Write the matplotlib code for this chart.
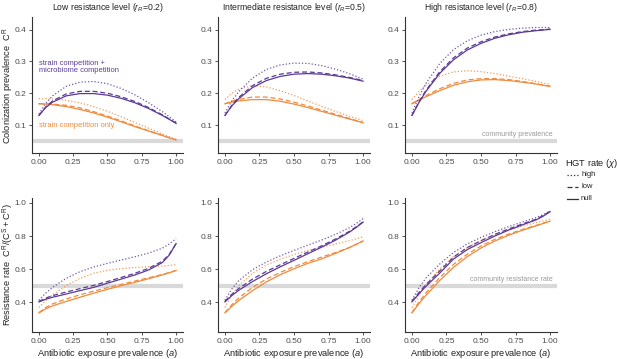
import matplotlib
matplotlib.use('Agg')
import matplotlib.pyplot as plt

plt.rcParams['font.family'] = ['Liberation Sans', 'DejaVu Sans']
plt.rcParams['mathtext.fontset'] = 'custom'
plt.rcParams['mathtext.rm'] = 'Liberation Sans'
plt.rcParams['mathtext.it'] = 'Liberation Sans:italic'

# antibiotic exposure prevalence (x values shared by all curves)
exposure = [0, 0.05, 0.1, 0.2, 0.3, 0.4, 0.5, 0.6, 0.7, 0.8, 0.9, 0.95, 1.0]

# colonization prevalence C^R, "micro" = strain + microbiome competition, "strain" = strain competition only
colon_low_micro = {
    'high': [0.135, 0.168, 0.192, 0.222, 0.235, 0.237, 0.230, 0.215, 0.195, 0.170, 0.142, 0.126, 0.110],
    'low':  [0.130, 0.157, 0.176, 0.198, 0.206, 0.206, 0.200, 0.189, 0.174, 0.155, 0.132, 0.119, 0.106],
    'null': [0.130, 0.155, 0.172, 0.192, 0.199, 0.199, 0.194, 0.184, 0.170, 0.152, 0.130, 0.118, 0.105],
}
colon_low_strain = {
    'high': [0.183, 0.183, 0.182, 0.178, 0.170, 0.158, 0.143, 0.126, 0.108, 0.090, 0.072, 0.063, 0.055],
    'low':  [0.167, 0.167, 0.166, 0.162, 0.154, 0.142, 0.128, 0.113, 0.097, 0.082, 0.068, 0.060, 0.053],
    'null': [0.167, 0.166, 0.164, 0.158, 0.149, 0.138, 0.125, 0.110, 0.095, 0.081, 0.067, 0.060, 0.053],
}
colon_int_micro = {
    'high': [0.138, 0.176, 0.205, 0.248, 0.275, 0.289, 0.295, 0.294, 0.287, 0.276, 0.262, 0.253, 0.244],
    'low':  [0.130, 0.162, 0.187, 0.224, 0.247, 0.260, 0.266, 0.267, 0.264, 0.258, 0.250, 0.245, 0.240],
    'null': [0.130, 0.160, 0.183, 0.218, 0.240, 0.253, 0.260, 0.262, 0.260, 0.255, 0.248, 0.243, 0.238],
}
colon_int_strain = {
    'high': [0.180, 0.200, 0.213, 0.224, 0.220, 0.208, 0.193, 0.176, 0.159, 0.143, 0.128, 0.121, 0.114],
    'low':  [0.167, 0.175, 0.181, 0.188, 0.188, 0.182, 0.172, 0.160, 0.147, 0.134, 0.121, 0.114, 0.108],
    'null': [0.167, 0.172, 0.176, 0.180, 0.180, 0.175, 0.166, 0.155, 0.143, 0.131, 0.119, 0.113, 0.107],
}
colon_high_micro = {
    'high': [0.138, 0.188, 0.230, 0.293, 0.337, 0.365, 0.383, 0.394, 0.401, 0.405, 0.407, 0.407, 0.407],
    'low':  [0.130, 0.172, 0.208, 0.267, 0.311, 0.342, 0.362, 0.377, 0.387, 0.394, 0.399, 0.400, 0.402],
    'null': [0.130, 0.170, 0.205, 0.262, 0.305, 0.336, 0.357, 0.373, 0.384, 0.392, 0.397, 0.399, 0.401],
}
colon_high_strain = {
    'high': [0.180, 0.205, 0.225, 0.253, 0.267, 0.271, 0.268, 0.262, 0.254, 0.246, 0.237, 0.232, 0.228],
    'low':  [0.167, 0.180, 0.192, 0.214, 0.231, 0.242, 0.246, 0.246, 0.243, 0.237, 0.230, 0.226, 0.222],
    'null': [0.167, 0.178, 0.189, 0.208, 0.225, 0.236, 0.242, 0.243, 0.240, 0.235, 0.229, 0.225, 0.222],
}

# resistance rate C^R / (C^S + C^R)
resist_low_micro = {
    'high': [0.412, 0.455, 0.490, 0.545, 0.585, 0.613, 0.635, 0.655, 0.675, 0.697, 0.727, 0.752, 0.785],
    'low':  [0.405, 0.425, 0.440, 0.462, 0.482, 0.502, 0.525, 0.550, 0.575, 0.605, 0.648, 0.690, 0.755],
    'null': [0.402, 0.418, 0.430, 0.450, 0.470, 0.490, 0.515, 0.540, 0.565, 0.595, 0.640, 0.685, 0.755],
}
resist_low_strain = {
    'high': [0.368, 0.410, 0.445, 0.500, 0.545, 0.575, 0.593, 0.603, 0.610, 0.615, 0.619, 0.622, 0.627],
    'low':  [0.337, 0.368, 0.390, 0.420, 0.445, 0.467, 0.488, 0.508, 0.528, 0.548, 0.568, 0.580, 0.592],
    'null': [0.335, 0.360, 0.378, 0.405, 0.430, 0.455, 0.478, 0.500, 0.520, 0.542, 0.565, 0.578, 0.592],
}
resist_int_micro = {
    'high': [0.412, 0.480, 0.530, 0.597, 0.643, 0.680, 0.713, 0.745, 0.776, 0.810, 0.850, 0.876, 0.905],
    'low':  [0.405, 0.448, 0.483, 0.540, 0.586, 0.626, 0.665, 0.703, 0.741, 0.782, 0.828, 0.856, 0.886],
    'null': [0.402, 0.440, 0.472, 0.525, 0.572, 0.614, 0.653, 0.693, 0.733, 0.775, 0.823, 0.852, 0.884],
}
resist_int_strain = {
    'high': [0.368, 0.445, 0.500, 0.575, 0.625, 0.660, 0.688, 0.712, 0.733, 0.752, 0.772, 0.783, 0.795],
    'low':  [0.337, 0.385, 0.425, 0.490, 0.540, 0.580, 0.615, 0.645, 0.673, 0.700, 0.730, 0.750, 0.770],
    'null': [0.335, 0.375, 0.410, 0.470, 0.523, 0.566, 0.602, 0.635, 0.662, 0.695, 0.730, 0.750, 0.770],
}
resist_high_micro = {
    'high': [0.412, 0.485, 0.545, 0.630, 0.700, 0.752, 0.792, 0.826, 0.857, 0.885, 0.912, 0.930, 0.950],
    'low':  [0.405, 0.458, 0.505, 0.588, 0.672, 0.730, 0.772, 0.810, 0.843, 0.873, 0.902, 0.924, 0.950],
    'null': [0.402, 0.450, 0.495, 0.575, 0.660, 0.718, 0.760, 0.800, 0.836, 0.868, 0.898, 0.920, 0.947],
}
resist_high_strain = {
    'high': [0.368, 0.440, 0.505, 0.600, 0.675, 0.730, 0.772, 0.808, 0.836, 0.860, 0.882, 0.892, 0.902],
    'low':  [0.337, 0.400, 0.455, 0.548, 0.628, 0.690, 0.740, 0.780, 0.812, 0.840, 0.865, 0.878, 0.890],
    'null': [0.335, 0.390, 0.440, 0.530, 0.610, 0.675, 0.728, 0.770, 0.805, 0.835, 0.862, 0.876, 0.890],
}

panel_titles = ['Low resistance level ($r_R$=0.2)',
                'Intermediate resistance level ($r_R$=0.5)',
                'High resistance level ($r_R$=0.8)']
community_prevalence = 0.05
community_resistance = 0.5
hgt_levels = ['high', 'low', 'null']

PURPLE = '#5b3a96'
ORANGE = '#f08a3c'
BAND = '#d9d9d9'
TICK_COL = '#4d4d4d'
TEXT_COL = '#222222'
line_styles = {'high': (0, (1, 1.6)), 'low': (0, (4, 2.2)), 'null': '-'}

W, H = 617, 359
fig = plt.figure(figsize=(W / 100, H / 100), dpi=100)

col_px = [(32, 183), (218, 370), (405, 557)]
row_px = [(17, 153), (198, 332)]


def px_axes(x0, x1, y0, y1):
    return fig.add_axes([x0 / W, 1 - y1 / H, (x1 - x0) / W, (y1 - y0) / H])


rows = [
    [(colon_low_micro, colon_low_strain), (colon_int_micro, colon_int_strain), (colon_high_micro, colon_high_strain)],
    [(resist_low_micro, resist_low_strain), (resist_int_micro, resist_int_strain), (resist_high_micro, resist_high_strain)],
]

axes = []
for r, row in enumerate(rows):
    for c, (micro, strain) in enumerate(row):
        ax = px_axes(col_px[c][0], col_px[c][1], row_px[r][0], row_px[r][1])
        axes.append(ax)
        ref = community_prevalence if r == 0 else community_resistance
        ax.axhline(ref, color=BAND, lw=3, zorder=1)
        for lvl in hgt_levels:
            a = 0.85 if lvl == 'high' else 1.0
            ax.plot(exposure, strain[lvl], color=ORANGE, ls=line_styles[lvl], lw=0.9, alpha=a, zorder=2)
            ax.plot(exposure, micro[lvl], color=PURPLE, ls=line_styles[lvl], lw=0.9, alpha=a, zorder=3)
        ax.set_xlim(-0.05, 1.05)
        ax.set_xticks([0, 0.25, 0.5, 0.75, 1.0])
        ax.set_xticklabels(['0.00', '0.25', '0.50', '0.75', '1.00'])
        if r == 0:
            ax.set_ylim(0.012, 0.44)
            ax.set_yticks([0.1, 0.2, 0.3, 0.4])
            ax.set_title(panel_titles[c], fontsize=6.2, color=TEXT_COL, pad=5)
        else:
            ax.set_ylim(0.22, 1.03)
            ax.set_yticks([0.4, 0.6, 0.8, 1.0])
            ax.set_xlabel('Antibiotic exposure prevalence ($a$)', fontsize=6.7, color=TEXT_COL, labelpad=2)
        for s in ['top', 'right']:
            ax.spines[s].set_visible(False)
        for s in ['left', 'bottom']:
            ax.spines[s].set_color('#333333')
            ax.spines[s].set_linewidth(0.8)
        ax.tick_params(length=2.5, width=0.6, color='#333333', labelsize=6.0,
                       labelcolor=TICK_COL, pad=1.5)

axes[0].set_ylabel('Colonization prevalence  $\\mathregular{C^R}$', fontsize=6.7, color=TEXT_COL)
axes[3].set_ylabel('Resistance rate  $\\mathregular{C^R/(C^S + C^R)}$', fontsize=6.7, color=TEXT_COL)
axes[0].yaxis.set_label_coords(-0.108, 0.5)
axes[3].yaxis.set_label_coords(-0.108, 0.5)

axes[0].text(0.0, 0.283, 'strain competition +\nmicrobiome competition', color=PURPLE,
             fontsize=5.4, va='center', ha='left', linespacing=1.15)
axes[0].text(0.0, 0.097, 'strain competition only', color=ORANGE, fontsize=5.4, va='center', ha='left')
axes[2].text(1.02, 0.069, 'community prevalence', color='#999999', fontsize=5.0, va='center', ha='right')
axes[5].text(1.02, 0.535, 'community resistance rate', color='#999999', fontsize=5.0, va='center', ha='right')

# legend drawn in figure pixels
fig.text(565 / W, 1 - 164 / H, 'HGT rate ($\\chi$)', fontsize=6.7, color=TEXT_COL, va='center', ha='left')
for i, lvl in enumerate(hgt_levels):
    y = 1 - (175 + 12 * i) / H
    fig.add_artist(plt.Line2D([567 / W, 578 / W], [y, y], color='#333333', lw=0.9,
                              ls=line_styles[lvl], transform=fig.transFigure))
    fig.text(581 / W, y, lvl, fontsize=5.4, color=TEXT_COL, va='center', ha='left')

fig.savefig('out.png', dpi=100)
